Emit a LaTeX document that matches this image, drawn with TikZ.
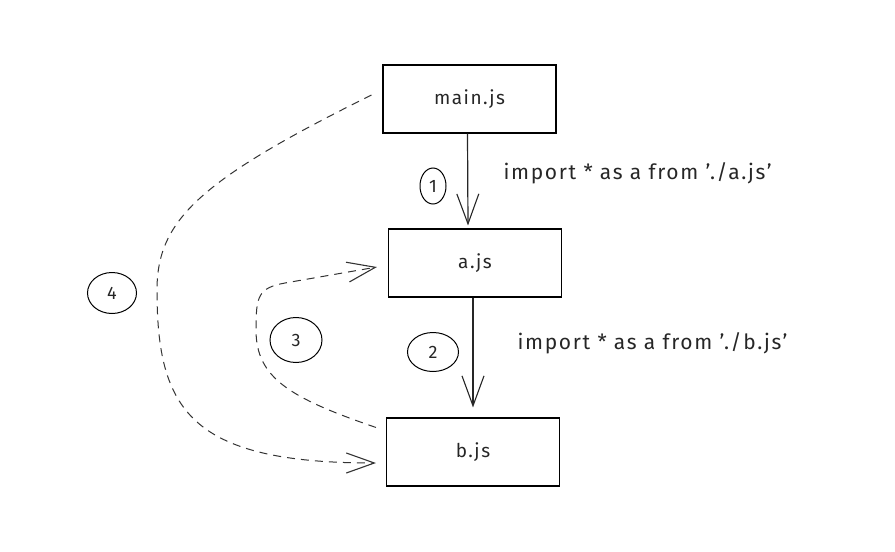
\documentclass[tikz,border=0pt]{standalone}
\usepackage{fontspec}
\setmainfont{Fira Sans}[LetterSpace=8]
\usetikzlibrary{arrows.meta,positioning,shapes.geometric}
\tikzset{
module/.style={
  rectangle, draw=black, line width=1.1pt,
  minimum width=173pt, minimum height=68pt,
  font=\fontsize{19}{21}\selectfont, text=black!85
  },
step num/.style={
  ellipse, draw=black, line width=1pt, inner sep=0pt,
  font=\fontsize{18}{20}\selectfont, text=black!85
  },
import/.style={
  anchor=west, font=\fontsize{21}{23}\selectfont, text=black!85
  },
load/.style={
  draw=black!85, line width=1.2pt,
  -{Straight Barb[length=30pt,width=22pt,line width=1.1pt]}
  },
lazy/.style={
  draw=black!80, line width=1pt, dash pattern=on 8pt off 6pt,
  -{Straight Barb[length=28pt,width=20pt,line width=1.1pt]}
  }
}

\begin{document}
\begin{tikzpicture}[x=1pt,y=-1pt]
\useasboundingbox (0,0) rectangle (895,552);

% modules

\node[module] (main) at (469.5,99) {main.js};
\node[module] (a) at (475,263) {a.js};
\node[module] (b) at (473,452) {b.js};

% step 1

\draw[load] ([xshift=-2pt]main.south) -- ([xshift=-7pt,yshift=3pt]a.north);
\node[step num, minimum width=26pt, minimum height=36pt] (n1) at (433,186) {1};
\node[import] (imp1) at (500,173) {import * as a from './a.js'};

% step 2

\draw[load] ([xshift=-2pt]a.south) -- ([yshift=10pt]b.north);
\node[step num, minimum width=51pt, minimum height=39pt] (n2) at (433,352) {2};
\node[import] (imp2) at (514,343) {import * as a from './b.js'};

% step 3

\coordinate (s3) at ([xshift=-10pt,yshift=-10pt]b.north west);
\coordinate (e3) at ([xshift=-11pt,yshift=-4pt]a.west);
\draw[lazy] (s3) .. controls (290,398) and (256,378) .. (256,330)
  .. controls (256,296) and (258,288) .. (285,283) -- (e3);
\node[step num, minimum width=52pt, minimum height=45pt] (n3) at (296,340) {3};

% step 4

\coordinate (s4) at ([xshift=-11pt,yshift=4pt]main.west);
\coordinate (e4) at ([xshift=-10pt,yshift=-11pt]b.west);
\draw[lazy] (s4) .. controls (200,180) and (157,220) .. (157,290)
  .. controls (157,410) and (190,463) .. (e4);
\node[step num, minimum width=49pt, minimum height=41pt] (n4) at (112,293) {4};

\end{tikzpicture}
\end{document}
